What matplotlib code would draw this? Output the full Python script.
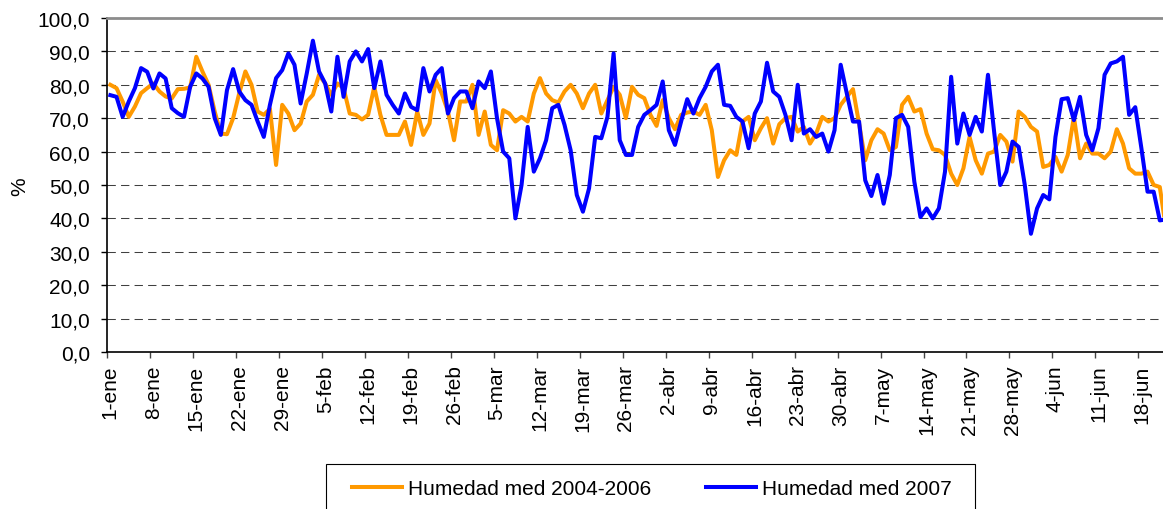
import numpy as np
import matplotlib
matplotlib.use("Agg")
import matplotlib.pyplot as plt
from matplotlib.patches import Rectangle

plt.rcParams['font.family'] = ['Liberation Sans', 'DejaVu Sans']

# humedad media diaria (%), dia 0 = 1-ene
hum_2004_2006 = [
    80, 79, 75, 70.4, 73.5, 77.5, 79, 80.4, 78, 76.5,
    75.9, 78.7, 78.8, 79.2, 88.4, 84, 80, 72, 65.4, 65.2,
    70, 77.5, 84, 80, 72, 71, 72.8, 56, 74, 71.4,
    66.4, 68.4, 75, 77, 83, 80.4, 77, 80.4, 79, 71.4,
    71, 69.6, 71, 79.4, 71, 65, 65, 65, 69, 62,
    72, 65, 68.4, 81.4, 77.4, 72, 63.4, 75, 75, 80,
    65, 72, 62, 60.4, 72.4, 71.4, 69, 70.4, 69, 77.4,
    82, 77.4, 75.4, 74.7, 78, 80, 77.4, 73, 77.4, 80,
    71.4, 75.4, 79.4, 77, 70, 79.4, 77, 76, 71, 67.7,
    75.4, 70, 66.7, 71, 71.7, 72, 71, 74, 66.4, 52.4,
    57.4, 60.4, 59, 69, 70.4, 63.4, 67, 70, 62.4, 68.2,
    70, 70.4, 66, 67.4, 62.4, 65.4, 70.4, 69, 70, 74,
    76.4, 78.7, 68.4, 57.4, 63.4, 66.7, 65.4, 60.4, 61.4, 74,
    76.4, 72, 72.7, 65.4, 60.7, 60.4, 59, 53.4, 50, 55,
    64.4, 57.4, 53.4, 59.4, 60, 65, 63, 57, 72, 70.4,
    67.4, 66, 55.4, 56, 58.4, 54, 59, 70.4, 58, 62.4,
    59.4, 59.4, 58, 60, 66.7, 62.4, 55, 53.4, 53.4, 54,
    50, 49.4, 37,
]

hum_2007 = [
    76.9, 76.4, 70.4, 75, 79, 85, 83.9, 78.9, 83.4, 81.9,
    73, 71.5, 70.4, 79.4, 83.4, 81.9, 79.4, 70, 65, 78.4,
    84.7, 78, 75.4, 74, 69, 64.4, 74, 82, 84.4, 89.4,
    86, 74.4, 83.4, 93.2, 84, 80.4, 72, 88.4, 76.4, 87,
    90, 87, 90.7, 79, 87, 77, 74, 71.4, 77.4, 73.4,
    72.4, 85, 78, 83, 85, 71.4, 76, 78, 78, 73,
    81, 79, 84, 70, 60, 58, 40, 50, 67.4, 54,
    58, 63.4, 73, 74, 68, 60.4, 47, 42, 49, 64.4,
    64, 70.4, 89.4, 63.4, 59, 59, 67.4, 71, 72.4, 74,
    81, 66.4, 62, 69, 75.7, 71.4, 76, 79.4, 84, 86,
    74, 73.7, 70.4, 69, 61, 71.4, 75, 86.6, 78, 76.4,
    71, 63.4, 80, 65.4, 66.7, 64.4, 65.4, 60, 66.4, 86,
    77.4, 69, 69, 51.4, 46.7, 53, 44.4, 53, 70, 71,
    67.4, 51, 40.4, 43, 40, 43, 54, 82.4, 62.4, 71.4,
    65, 70.4, 66, 83, 66, 50, 54, 63, 61.4, 50,
    35.4, 43, 47, 45.7, 64.4, 75.7, 76, 69.4, 76.4, 65,
    60.4, 67, 83, 86.4, 87, 88.4, 71, 73.3, 61, 48,
    48, 39.4, 39.7,
]

fechas = ["1-ene", "8-ene", "15-ene", "22-ene", "29-ene", "5-feb", "12-feb",
          "19-feb", "26-feb", "5-mar", "12-mar", "19-mar", "26-mar", "2-abr",
          "9-abr", "16-abr", "23-abr", "30-abr", "7-may", "14-may", "21-may",
          "28-may", "4-jun", "11-jun", "18-jun"]

dias = np.arange(len(hum_2007))
pos_fechas = np.arange(len(fechas)) * 7

W, H = 1163, 510
fs = 15
fig = plt.figure(figsize=(W / 100, H / 100), dpi=100)
x0, y0, y1 = 107.3, 353, 19
ax = fig.add_axes([x0 / W, 1 - y0 / H, 1 - x0 / W, (y0 - y1) / H])

ax.plot(dias, hum_2004_2006, color='#FF9900', lw=2.9, label='Humedad med 2004-2006',
        solid_joinstyle='round')
ax.plot(dias, hum_2007, color='#0000FF', lw=2.9, label='Humedad med 2007',
        solid_joinstyle='round')

ax.set_xlim(-0.5, 171.52)
ax.set_ylim(0, 100)

yt = np.arange(0, 101, 10)
ax.set_yticks(yt)
ax.set_yticklabels([f"{v:.1f}".replace('.', ',') for v in yt], fontsize=fs)
ax.tick_params(axis='y', length=4.5, width=1, pad=8, color='black')

ax.set_xticks(pos_fechas - 0.5)
ax.set_xticklabels([])
ax.set_xticks(pos_fechas, minor=True)
ax.set_xticklabels(fechas, minor=True, rotation=90, fontsize=fs)
ax.tick_params(axis='x', which='major', length=4.5, width=1, color='#444444')
ax.tick_params(axis='x', which='minor', length=0, pad=9)

ax.yaxis.grid(True, linestyle=(0, (8, 5)), linewidth=0.75, color='#404040')
ax.set_axisbelow(True)

for s in ['left', 'bottom']:
    ax.spines[s].set_color('black')
    ax.spines[s].set_linewidth(1.2)
ax.spines['top'].set_color('#8c8c8c')
ax.spines['top'].set_linewidth(2)
ax.spines['right'].set_visible(False)

fig.text(20 / W, 1 - 187 / H, '%', rotation=90, fontsize=fs, ha='center', va='center')

# leyenda
fig.patches.append(Rectangle((326 / W, 1 - 520 / H), (975 - 326) / W, 55 / H,
                             transform=fig.transFigure, fill=False,
                             edgecolor='black', linewidth=0.8))
h, l = ax.get_legend_handles_labels()
fig.legend(h, l, loc='center left', bbox_to_anchor=(352 / W, 1 - 490 / H),
           ncol=2, frameon=False, fontsize=fs, handlelength=2.4,
           handletextpad=0.3, columnspacing=2.6, borderpad=0, borderaxespad=0)

fig.savefig('out.png', dpi=100)
